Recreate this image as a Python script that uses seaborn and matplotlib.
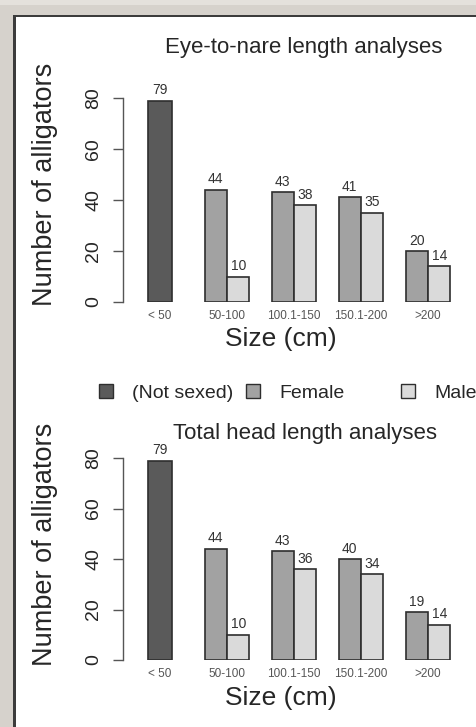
import matplotlib
matplotlib.use("Agg")
import matplotlib.pyplot as plt
from matplotlib.patches import Rectangle, Patch
import seaborn as sns
import pandas as pd

# ---------------- data ----------------
categories = ["< 50", "50-100", "100.1-150", "150.1-200", ">200"]
sexed_categories = ["50-100", "100.1-150", "150.1-200", ">200"]

eye_not_sexed = [79]          # only the "< 50" class
eye_female = [44, 43, 41, 20]
eye_male = [10, 38, 35, 14]

head_not_sexed = [79]
head_female = [44, 43, 40, 19]
head_male = [10, 36, 34, 14]

yticks = [0, 20, 40, 60, 80]
titles = ["Eye-to-nare length analyses", "Total head length analyses"]
legend_labels = ["(Not sexed)", "Female", "Male"]

# ---------------- style ----------------
sns.set_theme(style="white")
plt.rcParams["font.family"] = ["Liberation Sans", "DejaVu Sans"]

c_ns, c_f, c_m = "#5a5a5a", "#a2a2a2", "#dadada"
edge = "#2e2e2e"
axcol = "#555555"
txt = "#262626"

W, H = 477, 727
fig = plt.figure(figsize=(W / 100, H / 100), dpi=100)
fig.patch.set_facecolor("white")

def fx(px):
    return px / W

def fy(py):
    return 1 - py / H

# window-frame decoration
fig.add_artist(Rectangle((0, fy(15)), 1, 15 / H, transform=fig.transFigure,
                         facecolor="#d6d2cc", edgecolor="none", zorder=-5))
fig.add_artist(Rectangle((0, fy(5)), 1, 5 / H, transform=fig.transFigure,
                         facecolor="#e4e1dc", edgecolor="none", zorder=-4))
fig.add_artist(Rectangle((0, 0), fx(13), 1, transform=fig.transFigure,
                         facecolor="#d6d2cc", edgecolor="none", zorder=-5))
fig.add_artist(Rectangle((fx(13), fy(17)), 1, 2 / H, transform=fig.transFigure,
                         facecolor="#3c3c3c", edgecolor="none", zorder=-3))
fig.add_artist(Rectangle((fx(13), 0), 3 / W, fy(15), transform=fig.transFigure,
                         facecolor="#3c3c3c", edgecolor="none", zorder=-3))

ax_left, ax_right = 123, 468
ymax = 86
panels = [
    dict(zero=302, ppu=2.55, ns=eye_not_sexed, f=eye_female, m=eye_male,
         title=titles[0], title_xy=(304, 48), xl_y=339, yl_y=184),
    dict(zero=660, ppu=2.525, ns=head_not_sexed, f=head_female, m=head_male,
         title=titles[1], title_xy=(305, 433), xl_y=698, yl_y=544),
]

for p in panels:
    top = p["zero"] - ymax * p["ppu"]
    ax = fig.add_axes([fx(ax_left), fy(p["zero"]), (ax_right - ax_left) / W,
                       (p["zero"] - top) / H])
    ax.set_facecolor("none")

    df_ns = pd.DataFrame({"size": ["< 50"] * len(p["ns"]), "count": p["ns"]})
    df_sex = pd.DataFrame({
        "size": sexed_categories * 2,
        "count": p["f"] + p["m"],
        "sex": ["Female"] * len(p["f"]) + ["Male"] * len(p["m"]),
    })

    sns.barplot(data=df_ns, x="size", y="count", order=categories, color=c_ns,
                saturation=1, width=0.37, edgecolor=edge, linewidth=1.2,
                errorbar=None, ax=ax)
    sns.barplot(data=df_sex, x="size", y="count", hue="sex",
                hue_order=["Female", "Male"], order=categories,
                palette=[c_f, c_m], saturation=1, width=0.67, edgecolor=edge,
                linewidth=1.2, errorbar=None, legend=False, ax=ax)

    for cont in ax.containers:
        labels = [f"{int(v)}" if v > 0 else "" for v in cont.datavalues]
        ax.bar_label(cont, labels=labels, padding=2.5, fontsize=10,
                     color="#333333")

    ax.set_xlim((ax_left - 160) / 67, (ax_right - 160) / 67)
    ax.set_ylim(0, ymax)
    ax.set_yticks(yticks)
    ax.set_yticklabels([str(t) for t in yticks], rotation=90, va="center",
                       fontsize=14, color=txt)
    ax.tick_params(axis="y", left=True, length=7, width=1, color=axcol, pad=8)
    ax.tick_params(axis="x", bottom=False, length=0, pad=6, labelsize=8.5,
                   labelcolor="#555555")
    for s in ["top", "right", "bottom"]:
        ax.spines[s].set_visible(False)
    ax.spines["left"].set_bounds(0, 80)
    ax.spines["left"].set_color(axcol)
    ax.spines["left"].set_linewidth(1)
    ax.grid(False)

    height_px = p["zero"] - top
    width_px = ax_right - ax_left
    ax.set_xlabel("Size (cm)", fontsize=19, color=txt)
    ax.xaxis.label.set_va("center")
    ax.xaxis.set_label_coords((281 - ax_left) / width_px,
                              (p["zero"] - p["xl_y"]) / height_px)
    ax.set_ylabel("Number of alligators", fontsize=19.5, color=txt)
    ax.yaxis.label.set_va("center")
    ax.yaxis.label.set_ha("center")
    ax.yaxis.set_label_coords((45 - ax_left) / width_px,
                              (p["zero"] - p["yl_y"]) / height_px)

    tx, ty = p["title_xy"]
    ax.text((tx - ax_left) / width_px, (p["zero"] - ty) / height_px,
            p["title"], transform=ax.transAxes, ha="center", va="center",
            fontsize=16, color=txt)

# legend between panels: three entries placed individually
leg_items = [(legend_labels[0], c_ns, 99), (legend_labels[1], c_f, 246),
             (legend_labels[2], c_m, 401)]
for lab, col, xpx in leg_items:
    fig.legend(handles=[Patch(facecolor=col, edgecolor=edge, linewidth=1,
                              label=lab)],
               loc="center left", bbox_to_anchor=(fx(xpx), fy(393)),
               frameon=False, fontsize=14, handlelength=0.7, handleheight=0.7,
               handletextpad=1.0, borderpad=0, borderaxespad=0,
               labelcolor=txt)

fig.savefig("out.png", dpi=100)
